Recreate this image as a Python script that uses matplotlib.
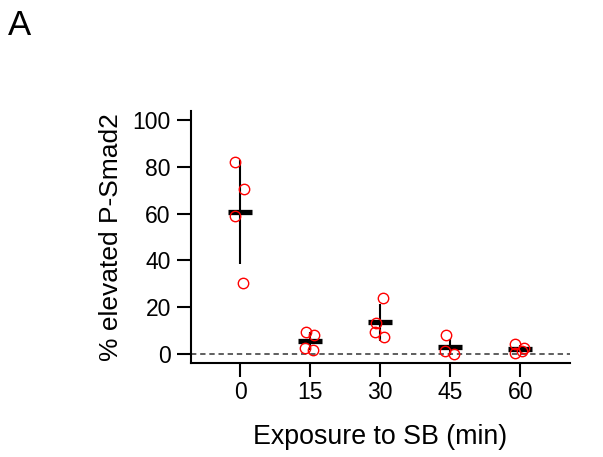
import numpy as np
import matplotlib.pyplot as plt

plt.rcParams['font.family'] = ['Liberation Sans', 'DejaVu Sans']

# exposure times (min) and the individual measurements
times = ['0', '15', '30', '45', '60']
vals_0 = [82.1, 70.6, 59.2, 30.3]
vals_15 = [9.1, 7.9, 2.4, 1.7]
vals_30 = [23.9, 13.2, 9.3, 7.2]
vals_45 = [7.9, 1.0, 0.0]
vals_60 = [4.3, 2.4, 0.3, 1.2]
jit_0 = [-0.07, 0.06, -0.07, 0.04]
jit_15 = [-0.06, 0.06, -0.07, 0.04]
jit_30 = [0.04, -0.06, -0.07, 0.05]
jit_45 = [-0.06, -0.07, 0.06]
jit_60 = [-0.07, 0.05, -0.08, 0.02]

# mean and SD
means = [60.6, 5.4, 13.4, 2.9, 2.1]
sds = [22.3, 4.0, 7.8, 3.3, 1.5]

groups = [vals_0, vals_15, vals_30, vals_45, vals_60]
jitters = [jit_0, jit_15, jit_30, jit_45, jit_60]

fig = plt.figure(figsize=(6.03, 4.57), dpi=100)
ax = fig.add_axes([191 / 603, 94 / 457, 379 / 603, 252 / 457])

ax.axhline(0, color='#333333', lw=1.1, ls=(0, (3.5, 2.5)), zorder=1)

x = np.arange(len(times))
ax.errorbar(x, means, yerr=sds, fmt='none', ecolor='black', elinewidth=1.5, capsize=0, zorder=2)
ax.errorbar(x, means, xerr=0.17, fmt='none', ecolor='black', elinewidth=3.8, capsize=0, zorder=3)

for i, (v, j) in enumerate(zip(groups, jitters)):
    ax.plot(i + np.array(j), v, 'o', mfc='none', mec='#ff0000', mew=1.0, ms=7.5, zorder=4)

ax.set_xlim(-0.7, 4.71)
ax.set_ylim(-4, 104)
ax.set_xticks(x)
ax.set_xticklabels(times)
ax.set_yticks([0, 20, 40, 60, 80, 100])

for s in ('top', 'right'):
    ax.spines[s].set_visible(False)
for s in ('left', 'bottom'):
    ax.spines[s].set_linewidth(1.5)

ax.tick_params(axis='both', labelsize=16.5, width=1.5, length=10)
ax.tick_params(axis='x', pad=3)
ax.tick_params(axis='y', pad=4.5)

ax.set_xlabel('Exposure to SB (min)', fontsize=19.3, labelpad=14)
ax.set_ylabel('% elevated P-Smad2', fontsize=19, labelpad=7)

fig.text(8 / 603, 1 - 35 / 457, 'A', fontsize=25, ha='left', va='baseline')

fig.savefig('out.png', dpi=100)
